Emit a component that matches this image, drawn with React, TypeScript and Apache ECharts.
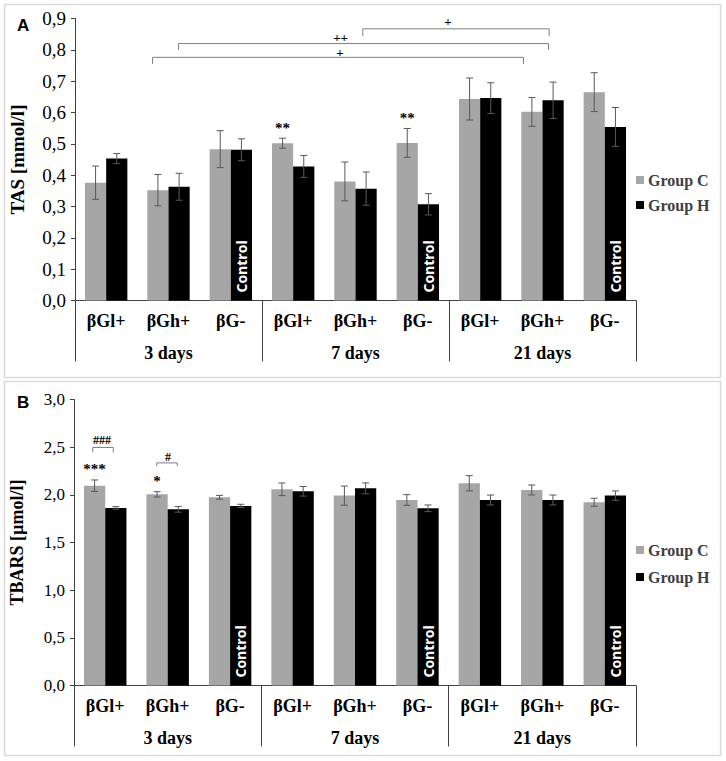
import React, { useEffect, useRef } from "react";
import * as echarts from "echarts";

// ---------- data ----------
const categories = ["βGl+", "βGh+", "βG-", "βGl+", "βGh+", "βG-", "βGl+", "βGh+", "βG-"];
const dayGroups = ["3 days", "7 days", "21 days"];
const controlIndexes = [2, 5, 8];

// Panel A: TAS [mmol/l]
const tasGroupC = [0.376, 0.352, 0.483, 0.502, 0.38, 0.503, 0.643, 0.602, 0.665];
const tasGroupCErr = [0.053, 0.05, 0.059, 0.016, 0.062, 0.046, 0.067, 0.046, 0.062];
const tasGroupH = [0.453, 0.363, 0.481, 0.428, 0.357, 0.307, 0.646, 0.639, 0.554];
const tasGroupHErr = [0.016, 0.043, 0.035, 0.035, 0.053, 0.034, 0.049, 0.058, 0.062];
const tasStarsC = ["", "", "", "**", "", "**", "", "", ""];
const tasTicks = { min: 0, max: 0.9, interval: 0.1 };

// Panel A significance brackets (category-index space / value space)
const tasBracketLeft = [0.744, 1.161, 4.117];
const tasBracketRight = [6.696, 7.096, 7.107];
const tasBracketLevel = [0.776, 0.82, 0.867];
const tasBracketEnd = [0.755, 0.8, 0.844];
const tasBracketText = ["+", "++", "+"];
const tasBracketTextX = [3.749, 3.76, 5.485];
const tasBracketTextY = [0.79, 0.84, 0.89];

// Panel B: TBARS [µmol/l]
const tbarsGroupC = [2.096, 2.005, 1.974, 2.058, 1.992, 1.946, 2.121, 2.051, 1.922];
const tbarsGroupCErr = [0.06, 0.028, 0.02, 0.066, 0.1, 0.056, 0.08, 0.052, 0.042];
const tbarsGroupH = [1.863, 1.848, 1.884, 2.037, 2.068, 1.859, 1.946, 1.946, 1.992];
const tbarsGroupHErr = [0.013, 0.03, 0.017, 0.05, 0.057, 0.035, 0.052, 0.052, 0.049];
const tbarsStarsC = ["***", "*", "", "", "", "", "", "", ""];
const tbarsTicks = { min: 0, max: 3, interval: 0.5 };

const tbarsBracketLeft = [-0.2, 0.824];
const tbarsBracketRight = [0.129, 1.154];
const tbarsBracketLevel = [2.497, 2.335];
const tbarsBracketEnd = [2.444, 2.3];
const tbarsBracketText = ["###", "#"];
const tbarsBracketTextX = [-0.05, 1.005];
const tbarsBracketTextY = [2.57, 2.4];

// ---------- styles ----------
const SERIF = "Liberation Serif";
const SANS = "Liberation Sans";
const GRAY = "#a6a6a6";
const BLACK = "#000000";
const ERR = "#595959";
const AXIS = "#404040";
const BAR_FRAC = 0.34;

const fmtComma = (v: number) => v.toFixed(1).replace(".", ",");

function errorSeries(name: string, xIdx: number, yIdx: number, vals: number[], errs: number[], side: number, stars: string[] | null) {
  return {
    type: "custom",
    name,
    xAxisIndex: xIdx,
    yAxisIndex: yIdx,
    z: 5,
    silent: true,
    data: vals.map((v, i) => [i, v, errs[i]]),
    renderItem: (params: any, api: any) => {
      const i = api.value(0);
      const v = api.value(1);
      const e = api.value(2);
      const band = api.size([1, 0])[0];
      const cx = api.coord([i, v])[0] + side * band * BAR_FRAC / 2;
      const yTop = api.coord([i, v + e])[1];
      const yBot = api.coord([i, v - e])[1];
      const cap = 3.5;
      const ls = { stroke: ERR, lineWidth: 1 };
      const children: any[] = [
        { type: "line", shape: { x1: cx, y1: yTop, x2: cx, y2: yBot }, style: ls },
        { type: "line", shape: { x1: cx - cap, y1: yTop, x2: cx + cap, y2: yTop }, style: ls },
        { type: "line", shape: { x1: cx - cap, y1: yBot, x2: cx + cap, y2: yBot }, style: ls },
      ];
      const s = stars ? stars[params.dataIndex] : "";
      if (s) {
        children.push({
          type: "text",
          x: cx,
          y: yTop - 3,
          style: { text: s, fontFamily: SERIF, fontWeight: "bold", fontSize: 15, fill: "#000", align: "center", verticalAlign: "bottom" },
        });
      }
      return { type: "group", children };
    },
  };
}

function bracketSeries(xIdx: number, yIdx: number, left: number[], right: number[], level: number[], end: number[], text: string[], tx: number[], ty: number[], fontSize: number) {
  return {
    type: "custom",
    xAxisIndex: xIdx,
    yAxisIndex: yIdx,
    silent: true,
    z: 6,
    data: left.map((l, i) => [l, level[i], right[i], end[i], tx[i], ty[i]]),
    renderItem: (params: any, api: any) => {
      const p1 = api.coord([api.value(0), api.value(1)]);
      const p2 = api.coord([api.value(2), api.value(1)]);
      const yEnd = api.coord([api.value(0), api.value(3)])[1];
      const pt = api.coord([api.value(4), api.value(5)]);
      const ls = { stroke: "#7f7f7f", lineWidth: 1, fill: "none" };
      return {
        type: "group",
        children: [
          { type: "polyline", shape: { points: [[p1[0], yEnd], [p1[0], p1[1]], [p2[0], p2[1]], [p2[0], yEnd]] }, style: ls },
          {
            type: "text",
            x: pt[0],
            y: pt[1],
            style: { text: text[params.dataIndex], fontFamily: SERIF, fontWeight: "bold", fontSize, fill: "#000", align: "center", verticalAlign: "middle" },
          },
        ],
      };
    },
  };
}

function blackData(vals: number[]) {
  return vals.map((v, i) =>
    controlIndexes.includes(i)
      ? {
          value: v,
          label: {
            show: true,
            position: "insideBottom",
            rotate: 90,
            align: "left",
            verticalAlign: "middle",
            distance: 8,
            formatter: "Control",
            color: "#ffffff",
            fontFamily: "Open Sans",
            fontWeight: "bold",
            fontSize: 14,
          },
        }
      : v
  );
}

function catAxes(gridIndex: number) {
  return [
    {
      type: "category",
      gridIndex,
      data: categories,
      position: "bottom",
      axisLine: { show: true, onZero: false, lineStyle: { color: AXIS, width: 1 } },
      axisTick: { show: false },
      axisLabel: { interval: 0, margin: 11, fontFamily: SERIF, fontWeight: "bold", fontSize: 18, color: "#000" },
      splitLine: { show: false },
    },
    {
      type: "category",
      gridIndex,
      data: dayGroups,
      position: "bottom",
      offset: 0,
      axisLine: { show: false, onZero: false },
      axisTick: { show: true, length: 61, interval: 0, lineStyle: { color: AXIS, width: 1 } },
      axisLabel: { interval: 0, margin: 43, fontFamily: SERIF, fontWeight: "bold", fontSize: 18, color: "#000" },
      splitLine: { show: false },
    },
    {
      type: "value",
      gridIndex,
      min: -0.5,
      max: 8.5,
      show: false,
      axisLine: { show: false, onZero: false },
      splitLine: { show: false },
      axisTick: { show: false },
      axisLabel: { show: false },
    },
  ];
}

function valAxis(gridIndex: number, name: string, ticks: { min: number; max: number; interval: number }, labelSize: number, nameSize: number) {
  return {
    type: "value",
    gridIndex,
    min: ticks.min,
    max: ticks.max,
    interval: ticks.interval,
    name,
    nameLocation: "middle",
    nameGap: 48,
    nameTextStyle: { fontFamily: SERIF, fontWeight: "bold", fontSize: nameSize, color: "#000" },
    axisLine: { show: true, onZero: false, lineStyle: { color: AXIS, width: 1 } },
    axisTick: { show: true, length: 4, inside: false, lineStyle: { color: AXIS } },
    axisLabel: { margin: 9, formatter: fmtComma, fontFamily: SERIF, fontSize: labelSize, color: "#000" },
    splitLine: { show: false },
  };
}

function legend(top: number, gap: number) {
  return {
    data: ["Group C", "Group H"],
    orient: "vertical",
    left: 636,
    top,
    padding: 0,
    itemWidth: 8,
    itemHeight: 8,
    itemGap: gap,
    icon: "rect",
    selectedMode: false,
    textStyle: { fontFamily: SERIF, fontWeight: "bold", fontSize: 16, color: "#404040", padding: [0, 0, 0, -1] },
  };
}

export default function App() {
  const ref = useRef<HTMLDivElement>(null);
  useEffect(() => {
    if (!ref.current) return;
    const chart = echarts.init(ref.current, null, { renderer: "svg" });
    const option: any = {
      animation: false,
      backgroundColor: "#ffffff",
      grid: [
        { left: 74, top: 18.5, width: 562, height: 282, containLabel: false },
        { left: 74, top: 399.5, width: 562, height: 286, containLabel: false },
      ],
      xAxis: [...catAxes(0), ...catAxes(1)],
      yAxis: [valAxis(0, "TAS [mmol/l]", tasTicks, 19, 19), valAxis(1, "TBARS [µmol/l]", tbarsTicks, 17, 18)],
      legend: [legend(172, 9), legend(542, 11)],
      graphic: [
        { type: "rect", shape: { x: 4.5, y: 4.5, width: 716, height: 373 }, style: { fill: "none", stroke: "#d9d9d9", lineWidth: 1.5 }, silent: true },
        { type: "rect", shape: { x: 4.5, y: 381.5, width: 716, height: 374 }, style: { fill: "none", stroke: "#d9d9d9", lineWidth: 1.5 }, silent: true },
        { type: "text", x: 17, y: 25, style: { text: "A", fontFamily: SANS, fontWeight: "bold", fontSize: 17, fill: "#000", verticalAlign: "middle" } },
        { type: "text", x: 17, y: 402, style: { text: "B", fontFamily: SANS, fontWeight: "bold", fontSize: 17, fill: "#000", verticalAlign: "middle" } },
      ],
      series: [
        { type: "bar", name: "Group C", xAxisIndex: 0, yAxisIndex: 0, data: tasGroupC, barWidth: "34%", barGap: "0%", itemStyle: { color: GRAY } },
        { type: "bar", name: "Group H", xAxisIndex: 0, yAxisIndex: 0, data: blackData(tasGroupH), barWidth: "34%", barGap: "0%", itemStyle: { color: BLACK } },
        errorSeries("errAC", 0, 0, tasGroupC, tasGroupCErr, -1, tasStarsC),
        errorSeries("errAH", 0, 0, tasGroupH, tasGroupHErr, 1, null),
        bracketSeries(2, 0, tasBracketLeft, tasBracketRight, tasBracketLevel, tasBracketEnd, tasBracketText, tasBracketTextX, tasBracketTextY, 13),
        { type: "bar", name: "Group C", xAxisIndex: 3, yAxisIndex: 1, data: tbarsGroupC, barWidth: "34%", barGap: "0%", itemStyle: { color: GRAY } },
        { type: "bar", name: "Group H", xAxisIndex: 3, yAxisIndex: 1, data: blackData(tbarsGroupH), barWidth: "34%", barGap: "0%", itemStyle: { color: BLACK } },
        errorSeries("errBC", 3, 1, tbarsGroupC, tbarsGroupCErr, -1, tbarsStarsC),
        errorSeries("errBH", 3, 1, tbarsGroupH, tbarsGroupHErr, 1, null),
        bracketSeries(5, 1, tbarsBracketLeft, tbarsBracketRight, tbarsBracketLevel, tbarsBracketEnd, tbarsBracketText, tbarsBracketTextX, tbarsBracketTextY, 12),
      ],
    };
    chart.setOption(option);
    return () => chart.dispose();
  }, []);
  return (
    <div style={{ position: "fixed", left: 0, top: 0, width: 726, height: 761, background: "#fff" }}>
      <div ref={ref} style={{ width: 726, height: 761 }} />
    </div>
  );
}
